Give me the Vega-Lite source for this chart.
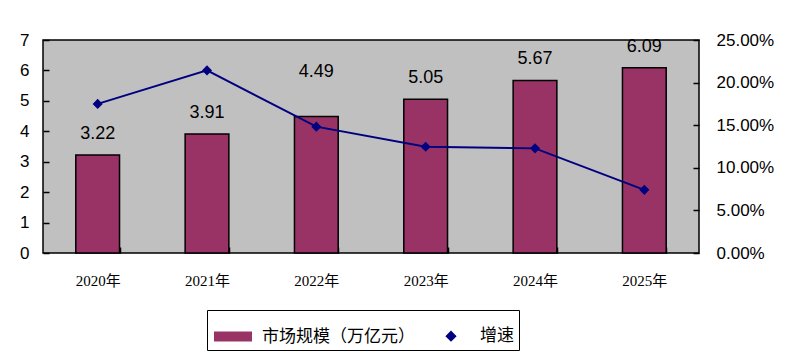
{
  "$schema": "https://vega.github.io/schema/vega-lite/v6.json",
  "width": 656,
  "height": 213,
  "autosize": "none",
  "padding": {"left": 43, "top": 40, "right": 95, "bottom": 110},
  "background": "white",
  "config": {
    "view": {"fill": "#C0C0C0", "stroke": "black", "strokeWidth": 1.5},
    "axis": {"domain": false, "grid": false, "labelColor": "black", "titleColor": "black", "labelOverlap": false, "tickColor": "black", "tickWidth": 1.5, "zindex": 1}
  },
  "data": {
    "values": [
      {"year": "2020年", "size": 3.22, "growth": 0.175},
      {"year": "2021年", "size": 3.91, "growth": 0.2143},
      {"year": "2022年", "size": 4.49, "growth": 0.1483},
      {"year": "2023年", "size": 5.05, "growth": 0.1247},
      {"year": "2024年", "size": 5.67, "growth": 0.1228},
      {"year": "2025年", "size": 6.09, "growth": 0.0741}
    ]
  },
  "encoding": {
    "x": {"field": "year", "type": "ordinal", "scale": {"paddingInner": 0.6, "paddingOuter": 0.3},
      "axis": {"title": null, "labelAngle": 0, "labelFont": "Liberation Serif, Noto Sans CJK SC", "labelFontSize": 15, "labelPadding": 20, "offset": -6, "tickSize": 6, "tickBand": "extent"}}
  },
  "layer": [
    {
      "mark": {"type": "bar", "stroke": "black", "strokeWidth": 1.5, "color": "#993366"},
      "encoding": {
        "y": {"field": "size", "type": "quantitative", "scale": {"domain": [0, 7]},
          "axis": {"title": null, "values": [0,1,2,3,4,5,6,7], "labelFont": "Liberation Sans", "labelFontSize": 17, "offset": -6, "tickSize": 6, "labelPadding": 14}}
      }
    },
    {
      "transform": [{"filter": "datum.year != '2022年'"}],
      "mark": {"type": "text", "dy": -16, "baseline": "alphabetic", "font": "Liberation Sans", "fontSize": 18, "color": "black"},
      "encoding": {
        "y": {"field": "size", "type": "quantitative", "scale": {"domain": [0, 7]}, "axis": null},
        "text": {"field": "size", "format": ".2f"}
      }
    },
    {
      "transform": [{"filter": "datum.year == '2022年'"}],
      "mark": {"type": "text", "dy": -39, "baseline": "alphabetic", "font": "Liberation Sans", "fontSize": 18, "color": "black"},
      "encoding": {
        "y": {"field": "size", "type": "quantitative", "scale": {"domain": [0, 7]}, "axis": null},
        "text": {"field": "size", "format": ".2f"}
      }
    },
    {
      "mark": {"type": "line", "strokeWidth": 2, "color": "#000080"},
      "encoding": {
        "y": {"field": "growth", "type": "quantitative", "scale": {"domain": [0, 0.25]},
          "axis": {"orient": "right", "title": null, "values": [0, 0.05, 0.1, 0.15, 0.2, 0.25], "format": ".2%", "labelFont": "Liberation Sans", "labelFontSize": 17, "offset": -6, "tickSize": 6, "labelPadding": 17}}
      }
    },
    {
      "mark": {"type": "point", "filled": true, "opacity": 1, "size": 1300},
      "encoding": {
        "y": {"field": "growth", "type": "quantitative", "scale": {"domain": [0, 0.25]}, "axis": null},
        "color": {"datum": "增速", "type": "nominal",
          "scale": {"domain": ["市场规模（万亿元）", "增速"], "range": ["#993366", "#000080"]},
          "legend": {
            "title": null, "orient": "none", "legendX": 164, "legendY": 270, "direction": "horizontal",
            "strokeColor": "black", "padding": 5, "labelFont": "Noto Sans CJK SC", "labelFontSize": 17, "labelColor": "black",
            "symbolSize": 1600, "columnPadding": 13, "labelOffset": 8, "symbolOpacity": 1
          }},
        "shape": {"datum": "增速", "type": "nominal",
          "scale": {"domain": ["市场规模（万亿元）", "增速"], "range": ["M-0.95,-0.25H0.95V0.25H-0.95Z", "M-1,0H1M0,-0.28L0.28,0L0,0.28L-0.28,0Z"]},
          "legend": {
            "title": null, "orient": "none", "legendX": 164, "legendY": 270, "direction": "horizontal",
            "strokeColor": "black", "padding": 5, "labelFont": "Noto Sans CJK SC", "labelFontSize": 17, "labelColor": "black",
            "symbolSize": 1600, "columnPadding": 13, "labelOffset": 8, "symbolOpacity": 1
          }}
      }
    }
  ],
  "resolve": {"scale": {"y": "independent"}}
}
